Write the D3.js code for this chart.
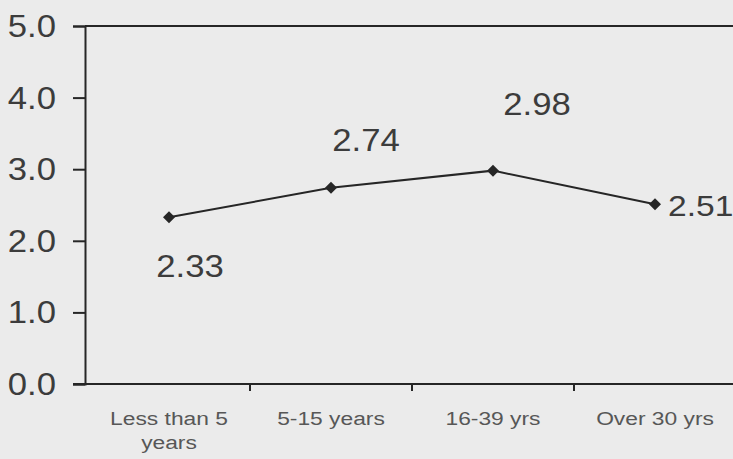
<!DOCTYPE html>
<html>
<head>
<meta charset="utf-8">
<script src="https://cdn.jsdelivr.net/npm/d3@7"></script>
<style>
  body { margin: 0; background: #ebebeb; }
  svg { display: block; }
</style>
</head>
<body>
<svg></svg>
<script>
// chart data
const categories = [["Less than 5", "years"], ["5-15 years"], ["16-39 yrs"], ["Over 30 yrs"]]
const values = [2.33, 2.74, 2.98, 2.51]
const yTicks = [0, 1, 2, 3, 4, 5]

// label offsets from their point (manual placement like the original)
const labelOffsets = [[21, 60, "middle"], [35, -37, "middle"], [44, -56, "middle"], [13, 12, "start"]]

const width = 733
const height = 459

const svg = d3.select("svg")
  .attr("width", width)
  .attr("height", height)

svg.append("rect")
  .attr("width", width)
  .attr("height", height)
  .attr("fill", "#ebebeb")

const xScale = d3.scaleBand()
  .domain(d3.range(categories.length))
  .range([88, 736])

const yScale = d3.scaleLinear()
  .domain([0, 5])
  .range([384, 26])

const axisX = 85

// top border of plot area
svg.append("line")
  .attr("x1", axisX).attr("x2", width)
  .attr("y1", yScale(5)).attr("y2", yScale(5))
  .attr("stroke", "#262626")
  .attr("stroke-width", 2)

// scanned text looks a bit wide, so stretch it horizontally
function addText(x, y, txt, size, anchor, color, stretch){
  svg.append("g")
    .attr("transform", "translate(" + x + "," + y + ") scale(" + stretch + ",1)")
    .append("text")
    .attr("font-family", "'Liberation Sans', Arial, sans-serif")
    .attr("font-size", size)
    .attr("text-anchor", anchor)
    .attr("fill", color)
    .text(txt)
}

// y axis
const yAxis = svg.append("g")
  .attr("transform", "translate(" + axisX + ",0)")
  .call(d3.axisLeft(yScale).tickValues(yTicks).tickSize(12).tickFormat(""))
yAxis.select(".domain").attr("stroke", "#262626").attr("stroke-width", 2)
yAxis.selectAll(".tick line").attr("stroke", "#262626").attr("stroke-width", 2)

yTicks.forEach(t => addText(axisX - 29, yScale(t) + 11, d3.format(".1f")(t), 31, "end", "#3c3c3c", 1.12))

// x axis
svg.append("line")
  .attr("x1", axisX - 12).attr("x2", width)
  .attr("y1", yScale(0)).attr("y2", yScale(0))
  .attr("stroke", "#262626")
  .attr("stroke-width", 2)

svg.selectAll(".xtick")
  .data(d3.range(1, categories.length))
  .enter()
  .append("line")
  .attr("class", "xtick")
  .attr("x1", d => xScale(d)).attr("x2", d => xScale(d))
  .attr("y1", yScale(0)).attr("y2", yScale(0) + 7)
  .attr("stroke", "#262626")
  .attr("stroke-width", 2)

categories.forEach((lines, i) => {
  lines.forEach((l, j) => {
    addText(xScale(i) + xScale.bandwidth() / 2, 425 + j * 24, l, 19, "middle", "#575757", 1.2)
  })
})

// line + markers
const cx = i => xScale(i) + xScale.bandwidth() / 2

const line = d3.line()
  .x((d, i) => cx(i))
  .y(d => yScale(d))

svg.append("path")
  .datum(values)
  .attr("d", line)
  .attr("fill", "none")
  .attr("stroke", "#262626")
  .attr("stroke-width", 2)

svg.selectAll(".marker")
  .data(values)
  .enter()
  .append("path")
  .attr("class", "marker")
  .attr("d", d3.symbol().type(d3.symbolSquare).size(72))
  .attr("transform", (d, i) => "translate(" + cx(i) + "," + yScale(d) + ") rotate(45)")
  .attr("fill", "#262626")

// value labels
values.forEach((v, i) => {
  const off = labelOffsets[i]
  addText(cx(i) + off[0], yScale(v) + off[1], d3.format(".2f")(v), i === 3 ? 30 : 31, off[2], "#3c3c3c", 1.12)
})
</script>
</body>
</html>
